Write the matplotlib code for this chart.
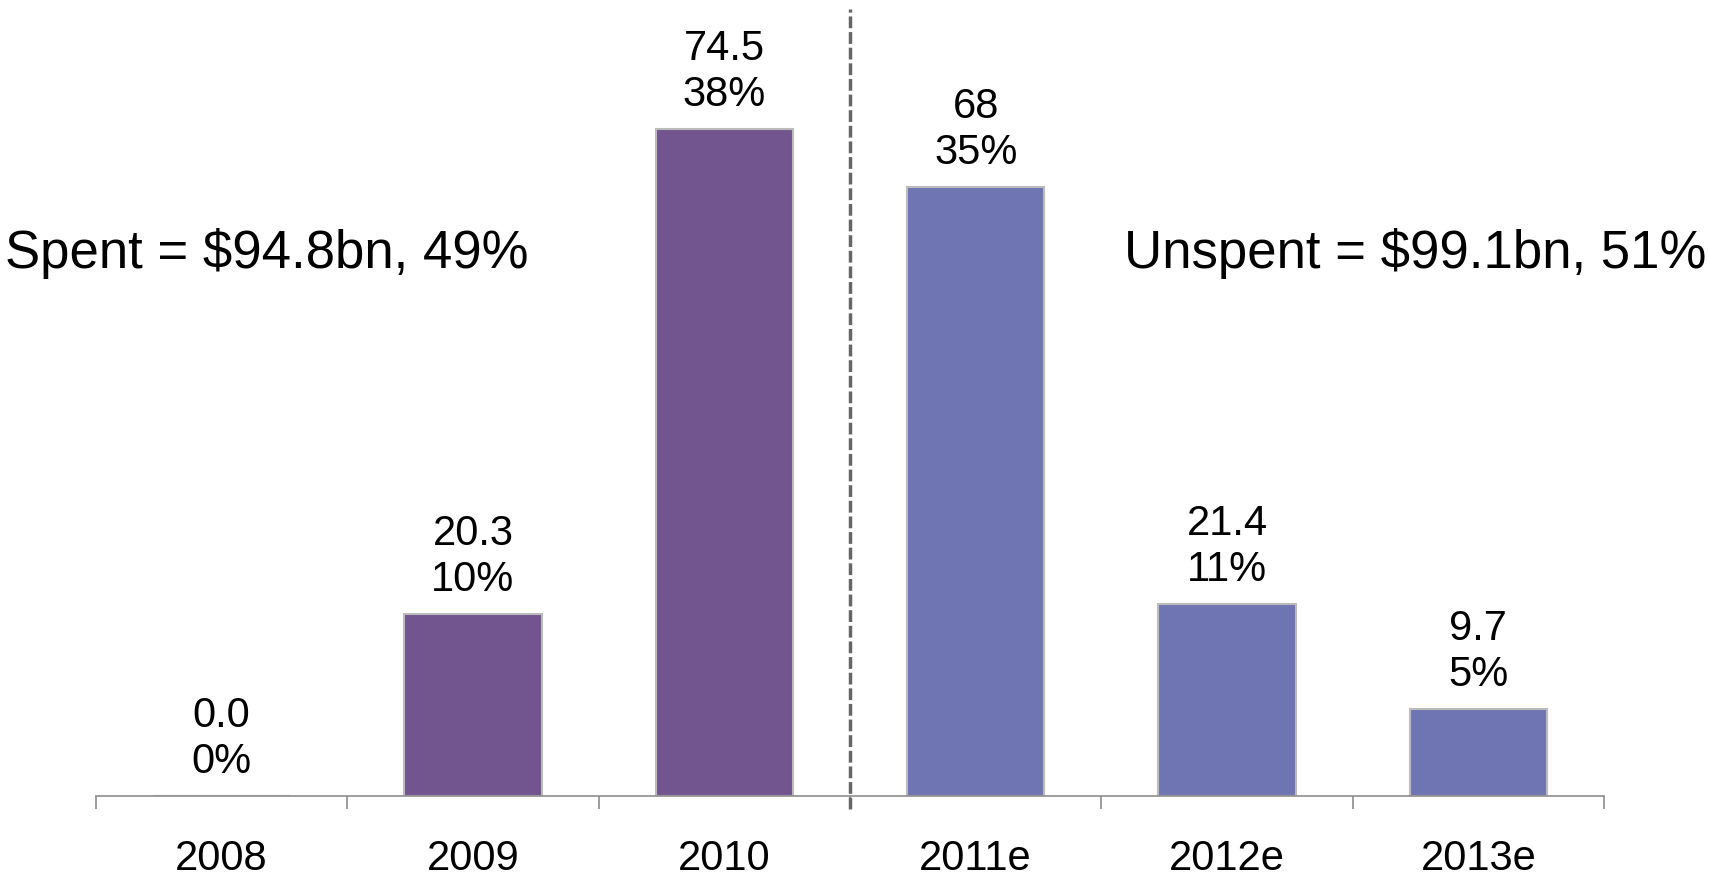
import numpy as np
import matplotlib.pyplot as plt

plt.rcParams['font.family'] = ['Liberation Sans', 'DejaVu Sans']

years = ['2008', '2009', '2010', '2011e', '2012e', '2013e']
values = [0.0, 20.3, 74.5, 68, 21.4, 9.7]
value_labels = ['0.0', '20.3', '74.5', '68', '21.4', '9.7']
shares = ['0%', '10%', '38%', '35%', '11%', '5%']
spent_text = 'Spent = $94.8bn, 49%'
unspent_text = 'Unspent = $99.1bn, 51%'

purple = '#72548F'
blue = '#6E75B2'
colors = [purple] * 3 + [blue] * 3

fig = plt.figure(figsize=(17.09, 8.86), dpi=100)
ax = fig.add_axes([96 / 1709, 1 - 796 / 886, 1508 / 1709, 796 / 886])

x = np.arange(len(years))
ax.bar(x, values, width=0.546, color=colors, edgecolor='#BBBBBB', linewidth=1.5)

for xi, v, vl, s in zip(x, values, value_labels, shares):
    ax.annotate(vl + '\n' + s, (xi, v), xytext=(0, 10), textcoords='offset points',
                ha='center', va='bottom', fontsize=30, linespacing=1.2)

ax.set_xlim(-0.5, len(years) - 0.5)
ax.set_ylim(0, 88.9)

# divider between actual and estimated
ax.axvline(2.5, ymin=-0.016, ymax=0.989, color='#666666', lw=2.5,
           linestyle=(0, (3.4, 1.1)), clip_on=False)

for sp in ['top', 'right', 'left']:
    ax.spines[sp].set_visible(False)
ax.spines['bottom'].set_color('#8C8C8C')
ax.spines['bottom'].set_linewidth(1.2)
ax.set_yticks([])

ax.set_xticks(np.arange(-0.5, len(years)), labels=[''] * (len(years) + 1))
ax.tick_params(axis='x', which='major', length=9.5, width=1.2, color='#8C8C8C')
ax.set_xticks(x, labels=years, minor=True)
ax.tick_params(axis='x', which='minor', length=0, pad=31, labelsize=30)

fig.text(0.003, 0.714, spent_text, ha='left', va='center', fontsize=38)
fig.text(0.9985, 0.714, unspent_text, ha='right', va='center', fontsize=38)

fig.savefig('out.png', dpi=100)
